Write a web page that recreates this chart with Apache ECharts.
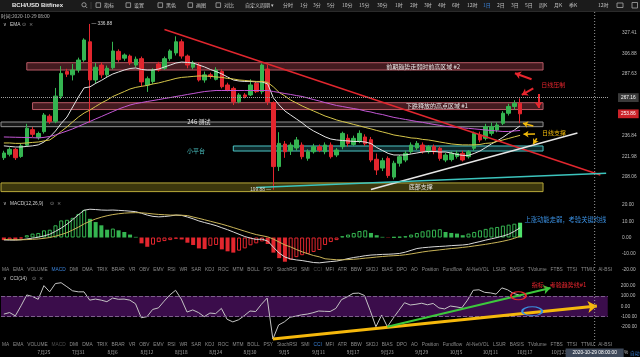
<!DOCTYPE html>
<html><head><meta charset="utf-8">
<script src="https://cdn.jsdelivr.net/npm/echarts@6/dist/echarts.min.js"></script>
<style>html,body{margin:0;padding:0;background:#000;}#c{width:640px;height:357px;}</style>
</head><body><div id="c"></div>
<script>
// ---------- categories (daily candles, 1D) ----------
const dates = [
'7/18','7/19','7/20','7/21','7/22','7/23','7/24','7/25','7/26','7/27','7/28','7/29','7/30','7/31',
'8/1','8/2','8/3','8/4','8/5','8/6','8/7','8/8','8/9','8/10','8/11','8/12','8/13','8/14','8/15','8/16',
'8/17','8/18','8/19','8/20','8/21','8/22','8/23','8/24','8/25','8/26','8/27','8/28','8/29','8/30','8/31',
'9/1','9/2','9/3','9/4','9/5','9/6','9/7','9/8','9/9','9/10','9/11','9/12','9/13','9/14','9/15',
'9/16','9/17','9/18','9/19','9/20','9/21','9/22','9/23','9/24','9/25','9/26','9/27','9/28','9/29','9/30',
'10/1','10/2','10/3','10/4','10/5','10/6','10/7','10/8','10/9','10/10','10/11','10/12','10/13','10/14','10/15',
'10/16','10/17','10/18','10/19','10/20','10/21','10/22','10/23','10/24','10/25','10/26','10/27','10/28','10/29','10/30','10/31'];

// ---------- price candles [open, close, low, high] ----------
const ohlc = [
[221.1,224.4,219.5,226.0],[223.5,227.0,222.0,228.5],[227.0,221.1,219.5,228.0],[222.0,229.5,221.0,231.0],
[230.0,242.6,229.0,246.0],[241.5,238.0,236.0,243.5],[235.5,238.6,234.0,240.0],[240.0,252.9,238.5,254.5],
[252.0,247.7,246.0,253.5],[248.0,268.4,246.5,275.4],[268.4,288.3,266.0,295.0],[290.0,287.6,285.0,292.5],
[287.0,291.4,282.0,297.0],[291.4,300.7,289.0,303.0],[300.7,320.3,299.0,322.0],[318.5,282.4,246.7,336.88],
[282.4,294.0,279.0,298.0],[296.0,287.0,284.0,298.5],[287.0,293.0,285.0,295.5],[293.5,309.4,292.0,318.5],
[309.0,301.0,299.0,311.0],[302.5,305.5,300.0,307.0],[304.5,298.0,296.0,306.0],[296.0,301.5,294.0,304.0],
[302.0,280.7,276.5,304.0],[278.0,283.5,272.0,285.5],[281.0,291.4,279.0,293.0],[297.0,291.4,290.0,299.0],
[293.0,302.0,291.5,304.0],[302.0,309.4,300.0,311.0],[307.5,318.5,305.0,324.0],[318.5,304.5,302.0,321.0],
[304.5,296.0,293.0,306.0],[294.0,298.0,292.0,300.0],[296.0,282.4,281.0,298.0],[282.4,287.0,280.0,290.0],
[287.0,285.5,283.5,289.0],[283.0,291.4,282.0,294.0],[290.0,276.5,275.0,292.0],[278.0,273.6,272.5,280.0],
[275.0,263.7,261.0,276.5],[263.7,269.4,262.5,271.0],[269.4,268.0,266.5,271.0],[269.4,278.0,268.5,283.0],
[279.5,272.2,271.0,281.0],[272.2,296.0,270.0,297.5],[292.3,263.7,261.0,296.0],[263.0,215.0,199.88,264.0],
[215.0,231.3,212.0,239.6],[230.8,225.3,221.0,233.0],[226.0,230.1,223.0,232.0],[228.0,233.8,226.0,236.0],
[230.1,221.8,220.0,232.0],[220.7,225.3,219.0,227.0],[225.3,228.9,224.0,231.0],[228.9,226.3,225.0,230.5],
[225.3,230.1,223.5,232.0],[230.1,221.8,220.5,232.0],[223.0,226.5,221.5,228.0],[228.9,238.7,227.0,240.0],
[235.0,231.3,229.0,238.0],[230.5,235.0,229.5,237.0],[232.6,238.7,231.5,241.0],[236.0,231.0,229.5,238.0],
[234.0,219.5,218.0,236.0],[220.0,212.7,209.4,224.0],[214.0,219.0,212.0,221.0],[220.6,209.0,207.5,222.0],
[208.0,217.3,206.5,219.0],[217.3,221.8,215.0,223.0],[219.5,224.2,218.0,226.0],[225.3,230.1,224.0,232.0],
[228.0,231.3,226.5,233.0],[230.1,225.3,224.0,232.0],[225.3,228.9,224.0,230.0],[228.9,225.3,223.5,230.5],
[227.8,220.6,219.0,229.0],[219.5,223.0,218.0,224.5],[219.8,224.2,218.5,225.5],[222.0,224.2,220.5,226.0],
[224.2,219.5,218.5,226.0],[221.8,225.3,220.5,226.5],[227.8,238.7,226.0,240.0],[237.5,233.8,232.0,240.0],
[235.0,243.8,233.5,246.0],[238.7,243.8,237.0,247.0],[241.2,245.1,239.5,247.0],[246.4,254.3,245.0,256.0],
[254.3,259.8,252.5,262.0],[259.8,262.5,257.0,265.0],[262.5,253.86,246.4,266.5]];

// ---------- moving averages (white / yellow / purple) ----------
const maFast = [229.5,229.1,228.7,228.7,229.1,229.5,230.2,232.3,235.9,240.5,
246.3,251.3,259.4,267.7,275.5,276.3,279.4,282.0,285.1,287.8,
289.6,291.4,292.8,293.3,291.9,291.4,291.4,292.3,294.2,296.0,
297.9,298.8,298.4,297.9,296.0,294.2,291.9,290.0,287.8,285.1,
282.4,281.5,281.1,281.1,280.7,280.7,278.9,266.8,261.0,256.1,
252.9,249.8,246.7,243.2,240.5,238.3,236.1,234.5,233.8,233.4,
233.1,232.7,232.7,232.3,231.2,228.3,226.2,224.1,223.0,223.0,
223.0,223.7,224.4,225.1,225.5,225.5,225.1,225.1,224.4,223.4,
222.7,222.7,224.1,225.8,228.3,230.9,233.1,235.7,238.7,241.2,244.4];
const maMid = [231.6,231.6,231.3,231.3,231.6,232.0,232.3,233.1,233.8,236.8,
240.2,243.6,247.5,251.3,254.5,256.9,259.8,262.7,265.1,268.1,
270.2,272.3,274.5,275.9,276.8,277.6,278.9,279.8,281.1,282.4,
283.8,284.7,285.1,285.6,286.0,286.0,285.6,285.1,284.7,283.8,
283.3,282.4,282.0,281.5,281.1,281.1,280.2,276.3,271.5,268.5,
265.1,262.7,260.2,258.1,256.1,254.1,252.1,250.6,249.0,247.8,
246.7,245.5,244.4,243.2,242.1,240.9,239.8,238.7,237.5,236.8,
236.1,235.3,235.0,234.2,233.8,233.1,232.3,231.6,230.9,230.5,
230.2,230.2,230.2,230.5,231.3,231.6,232.7,233.8,234.9,236.1,237.2];
const maSlow = [236.0,235.9,235.8,235.7,235.6,235.5,235.3,235.7,236.4,237.5,
239.0,240.5,242.1,244.0,245.9,247.8,249.8,251.7,253.7,255.7,
257.7,259.4,261.0,262.2,263.0,263.9,264.7,265.5,266.4,267.2,
268.1,268.9,269.8,270.6,271.5,272.3,272.8,273.2,273.2,273.2,
273.2,273.2,273.2,273.2,273.2,273.2,273.2,272.3,271.5,270.6,
269.8,268.9,268.1,266.8,265.5,264.3,263.0,261.8,260.6,259.8,
258.9,258.1,257.3,256.1,255.3,254.1,253.3,252.1,251.0,250.2,
249.4,248.6,247.8,247.1,246.3,245.5,244.8,244.0,243.6,243.2,
242.9,242.5,242.1,241.7,241.2,240.9,240.5,240.1,240.1,240.5,240.9];

// ---------- MACD(12,26,9) ----------
const macdDif = [-1.5,-1.6,-1.6,-1.4,-0.9,-0.4,0.2,1.0,2.0,3.8,
5.8,8.2,11.0,14.0,16.8,17.4,17.2,16.9,16.8,16.9,
16.7,16.5,16.2,15.9,14.9,13.8,13.0,12.7,12.9,13.3,
13.8,13.6,12.6,11.5,10.2,9.2,8.3,7.3,6.0,4.8,
3.4,2.0,0.6,-0.4,-1.2,-1.0,-2.2,-6.0,-9.6,-12.0,
-13.2,-13.8,-14.2,-14.8,-15.4,-15.6,-15.2,-14.8,-14.5,-13.8,
-13.0,-12.3,-11.8,-11.2,-10.8,-10.6,-10.4,-10.3,-10.1,-9.8,
-9.0,-7.9,-6.8,-6.3,-6.0,-5.7,-5.5,-5.3,-5.0,-4.8,
-4.6,-4.2,-3.3,-2.5,-1.6,-0.8,0.0,0.9,2.0,3.8,6.0];
const macdDea = [-1.2,-1.3,-1.4,-1.4,-1.3,-1.1,-0.9,-0.5,0.0,0.8,
1.8,3.0,4.6,6.4,8.4,10.0,11.4,12.5,13.4,14.1,
14.6,15.0,15.2,15.3,15.2,14.9,14.5,14.2,14.0,13.8,
13.8,13.7,13.5,12.6,11.8,10.9,10.0,9.1,8.2,7.2,
6.1,5.0,3.9,2.8,1.8,1.1,0.4,-1.0,-2.8,-4.6,
-5.8,-7.4,-8.8,-10.0,-11.1,-11.9,-13.1,-13.4,-13.7,-13.7,
-13.6,-13.4,-13.1,-12.7,-12.4,-12.0,-11.7,-11.4,-11.2,-11.0,
-10.6,-10.1,-9.5,-8.9,-8.4,-8.0,-7.6,-7.2,-6.8,-6.5,
-6.1,-5.7,-5.2,-4.7,-4.2,-3.6,-3.0,-2.3,-1.5,-0.5,0.8];
const macdHist = [-1.6,-1.2,-1.6,-0.6,1.4,2.4,2.8,4.4,4.8,7.5,
10.5,10.9,12.1,14.5,17.0,11.5,9.5,7.5,4.8,5.5,
4.4,3.4,1.8,0.4,-3.6,-5.7,-4.4,-2.8,-2.2,-1.6,
-0.8,-1.2,-3.2,-4.6,-6.7,-7.1,-5.1,-4.6,-7.3,-8.5,
-9.3,-8.1,-6.7,-4.8,-3.6,-2.4,-4.0,-9.3,-12.7,-14.9,
-13.7,-12.1,-10.9,-10.1,-8.9,-7.7,-4.6,-2.8,-1.6,0.8,
1.8,2.8,4.0,4.4,2.8,1.4,0.4,-0.2,0.2,0.4,
0.8,1.8,2.8,3.8,4.4,4.8,5.1,3.4,2.8,2.4,
1.4,2.4,3.4,4.4,5.3,6.1,6.5,7.3,7.9,8.5,9.1];

// ---------- CCI(14) ----------
const cci = [-75,-60,-92,5,110,95,68,200,140,220,
228,190,150,140,140,60,70,60,45,80,
68,70,60,25,-110,-100,-30,-15,50,110,
155,70,-55,-35,-60,-100,-65,-70,-20,-125,
-150,-130,-90,-45,-50,20,80,-316,-180,-150,
-105,-95,-82,-75,-62,-45,-48,-50,-20,65,
92,125,128,105,-40,-197,-84,-197,-116,-40,
35,13,20,30,15,28,-15,-25,3,-5,
-15,60,155,160,135,130,118,178,160,125,110];

// ---------- tick labels ----------
const priceTicks = [208.06, 221.98, 236.84, 287.63, 306.88, 327.41];
const macdTicks = [-20, -10, 0, 10, 20];
const cciTicks = [-200, -100, 0, 100, 200];

// ---------- annotations (category index, value) ----------
const crossIndex = 103, crossPrice = 267.16, crossTime = '2020-10-29 08:00:00';
const zone2 = [[4, 298.2], [94, 291.4]];
const zone1 = [[5, 262.9], [94, 257.3]];
const band246 = [[-0.5, 247.4], [94, 243.8]];
const platform = [[40, 229.4], [94, 225.8]];
const bottomBox = [[-0.5, 204.2], [94, 198.7]];
const downTrend = [[28, 331.0], [104, 209.4]];
const upTrend = [[64, 200.0], [100, 239.0]];
const tealTrend = [[44, 201.3], [105, 210.6]];
const redArrows = [[[92.0, 283.0], [89.1, 288.4]], [[92.3, 275.1], [90.3, 269.4]], [[93.2, 270.1], [93.2, 258.5]]];
const yellowArrows = [[[92.3, 244.3], [90.5, 246.4]], [[92.6, 238.2], [90.6, 238.0]], [[92.9, 235.0], [92.3, 230.8]]];
const mainNotes = [
  ['前期趋势走弱时前高区域 #2', 73.1, 294.7, '#e6e6e6'],
  ['下跌释放的高点区域 #1', 75.5, 260.2, '#e6e6e6'],
  ['246 测试', 34, 247.4, '#e6e6e6'],
  ['小平台', 33.5, 225.8, '#4cc6c6'],
  ['底部支撑', 72.7, 201.6, '#e6e6e6'],
  ['日线压制', 95.8, 278.0, '#e8262e'],
  ['日线支撑', 95.9, 239.0, '#f0b90b']];
const macdNote = ['上涨动能走弱，考验关键均线', 97.9, 11.2];
const cciNote = ['指标，考验趋势线#1', 97, 206];
const cciGreenArrow = [[67, -197], [95.5, 177]];
const cciYellowArrow = [[47, -316], [103.6, 3]];
const cciRedRing = [89.9, 102];
const cciBlueRing = [92.3, -48];

// ---------- styles ----------
const GREEN = '#35b551', RED = '#e3262e';
const CJK = '"Noto Sans CJK SC","Noto Sans",sans-serif';
const LAT = '"Liberation Sans","Noto Sans CJK SC",sans-serif';
const ZONE = {color:'rgba(150,60,70,0.45)', borderColor:'#b85a66', borderWidth:1};
const GRAYB = {color:'rgba(110,110,110,0.22)', borderColor:'#909090', borderWidth:1};
const CYANB = {color:'rgba(40,120,125,0.35)', borderColor:'#4cc6c6', borderWidth:1};
const YELB = {color:'rgba(120,110,25,0.5)', borderColor:'#b9aa3a', borderWidth:1};

function seg(p, color, width, arrow, asize) {
  return [{coord:p[0], symbol:'none', lineStyle:{color, width, type:'solid'}},
          {coord:p[1], symbol: arrow ? 'arrow' : 'none', symbolSize: asize || 6}];
}
function note(coord, text, color, size) {
  return {coord, symbol:'circle', symbolSize:1, itemStyle:{color:'rgba(0,0,0,0)'},
    label:{show:true, position:'inside', formatter:text, color, fontSize:size || 6, fontFamily:CJK}};
}

let hiIdx = 0, loIdx = 0;
ohlc.forEach((d, i) => { if (d[3] > ohlc[hiIdx][3]) hiIdx = i; if (d[2] < ohlc[loIdx][2]) loIdx = i; });
const hi = ohlc[hiIdx][3], lo = ohlc[loIdx][2];
const lastClose = ohlc[ohlc.length - 1][1];

const histData = macdHist.map((v, i) => {
  const prev = i > 0 ? macdHist[i - 1] : v;
  const col = v >= 0 ? GREEN : RED;
  const last = i === macdHist.length - 1;
  const hollow = !last && v > prev;
  return {value: v, itemStyle: hollow
    ? {color:'rgba(0,0,0,0)', borderColor: col, borderWidth: 1}
    : {color: last ? '#4fe36c' : col, borderColor: last ? '#4fe36c' : col, borderWidth: 0}};
});

const hiddenCat = gi => ({type:'category', gridIndex:gi, data:dates, show:false, boundaryGap:true});
const hiddenVal = gi => ({type:'value', gridIndex:gi, min:-0.5, max:dates.length - 0.5, show:false});
const yLab = vals => ({customValues: vals, formatter: v => Number(v).toFixed(2), color:'#bdbdbd', fontSize:4.8, margin:13, fontFamily:LAT});

const option = {
  backgroundColor:'#000',
  animation:false,
  grid:[
    {left:1, right:31, top:12, height:184},
    {left:1, right:31, top:200, height:72},
    {left:1, right:31, top:282, height:58}
  ],
  xAxis:[
    hiddenCat(0), hiddenVal(0), hiddenCat(1), hiddenVal(1),
    {type:'category', gridIndex:2, data:dates, boundaryGap:true,
      axisLine:{show:false}, axisTick:{show:false}, splitLine:{show:false},
      axisLabel:{interval:(i) => i >= 7 && (i - 1) % 6 === 0,
        formatter:(v) => { const p = v.split('/'); return p[0] + '月' + p[1]; },
        color:'#a8a8a8', fontSize:4.8, margin:10, fontFamily:CJK}},
    hiddenVal(2)
  ],
  yAxis:[
    {type:'log', gridIndex:0, position:'right', min:195.98, max:349.8,
      axisLine:{show:false}, axisTick:{show:false}, splitLine:{show:false}, axisLabel:yLab(priceTicks)},
    {type:'value', gridIndex:1, position:'right', min:-21.23, max:23.08,
      axisLine:{show:false}, axisTick:{show:false}, splitLine:{show:false}, axisLabel:yLab(macdTicks)},
    {type:'value', gridIndex:2, position:'right', min:-325, max:235,
      axisLine:{show:false}, axisTick:{show:false}, splitLine:{show:false}, axisLabel:yLab(cciTicks)}
  ],
  series:[
    {type:'line', xAxisIndex:1, yAxisIndex:0, data:[], silent:true,
      markArea:{silent:true, data:[
        [{coord:zone2[0], itemStyle:ZONE}, {coord:zone2[1]}],
        [{coord:zone1[0], itemStyle:ZONE}, {coord:zone1[1]}],
        [{coord:band246[0], itemStyle:GRAYB}, {coord:band246[1]}],
        [{coord:platform[0], itemStyle:CYANB}, {coord:platform[1]}],
        [{coord:bottomBox[0], itemStyle:YELB}, {coord:bottomBox[1]}]
      ]}},
    {type:'candlestick', xAxisIndex:0, yAxisIndex:0, data:ohlc, barWidth:'70%',
      itemStyle:{color:GREEN, color0:RED, borderColor:GREEN, borderColor0:RED, borderWidth:1}},
    {type:'line', xAxisIndex:0, yAxisIndex:0, data:maFast, symbol:'none', lineStyle:{color:'#e4e4e4', width:1}},
    {type:'line', xAxisIndex:0, yAxisIndex:0, data:maMid, symbol:'none', lineStyle:{color:'#d6c64a', width:1}},
    {type:'line', xAxisIndex:0, yAxisIndex:0, data:maSlow, symbol:'none', lineStyle:{color:'#c457d6', width:1}},
    {type:'line', xAxisIndex:1, yAxisIndex:0, data:[], silent:true,
      markLine:{silent:true, symbol:['none','none'], label:{show:false}, data:[
        seg(downTrend, '#e0262e', 1.5), seg(upTrend, '#e6e6e6', 1.5), seg(tealTrend, '#3cc4bd', 1.5),
        ...redArrows.map(a => seg(a, '#e8262e', 2, true, 6)),
        ...yellowArrows.map(a => seg(a, '#f0b90b', 1.6, true, 5)),
        {yAxis:crossPrice, lineStyle:{type:'dotted', color:'#a0a0a0', width:1},
          label:{show:true, position:'end', distance:9, formatter:crossPrice.toFixed(2), color:'#fff',
            backgroundColor:'#3a3a3a', padding:[2,3], fontSize:4.8, fontFamily:LAT}},
        {yAxis:lastClose, lineStyle:{color:'rgba(0,0,0,0)', width:0},
          label:{show:true, position:'end', distance:9, formatter:lastClose.toFixed(2), color:'#fff',
            backgroundColor:'#cc2229', padding:[2,3], fontSize:4.8, fontFamily:LAT}}
      ]},
      markPoint:{silent:true, data:[
        ...mainNotes.map(n => note([n[1], n[2]], n[0], n[3], 6)),
        {coord:[hiIdx, hi], symbol:'circle', symbolSize:1, itemStyle:{color:'rgba(0,0,0,0)'},
          label:{show:true, position:'right', distance:1, formatter:'— ' + hi.toFixed(2), color:'#d8d8d8', fontSize:4.8, fontFamily:LAT}},
        {coord:[loIdx, lo], symbol:'circle', symbolSize:1, itemStyle:{color:'rgba(0,0,0,0)'},
          label:{show:true, position:'left', distance:2, formatter:lo.toFixed(2) + ' —', color:'#d8d8d8', fontSize:4.8, fontFamily:LAT}}
      ]}},
    {type:'bar', xAxisIndex:2, yAxisIndex:1, data:histData, barWidth:'70%'},
    {type:'line', xAxisIndex:2, yAxisIndex:1, data:macdDif, symbol:'none', lineStyle:{color:'#d8d8d8', width:1}},
    {type:'line', xAxisIndex:2, yAxisIndex:1, data:macdDea, symbol:'none', lineStyle:{color:'#c9b458', width:1}},
    {type:'line', xAxisIndex:3, yAxisIndex:1, data:[], silent:true,
      markPoint:{silent:true, data:[note([macdNote[1], macdNote[2]], macdNote[0], '#3a8fe0', 6.3)]}},
    {type:'line', xAxisIndex:5, yAxisIndex:2, data:[], silent:true,
      markArea:{silent:true, data:[[{yAxis:100, itemStyle:{color:'#3b0d4b'}}, {yAxis:-100}]]},
      markLine:{silent:true, symbol:['none','none'], label:{show:false}, data:[
        {yAxis:100, lineStyle:{type:'dashed', color:'#7d5f8c', width:1}},
        {yAxis:-100, lineStyle:{type:'dashed', color:'#7d5f8c', width:1}}]}},
    {type:'line', xAxisIndex:4, yAxisIndex:2, data:cci, symbol:'none', lineStyle:{color:'#c4c4c4', width:1}},
    {type:'line', xAxisIndex:5, yAxisIndex:2, data:[], silent:true,
      markLine:{silent:true, symbol:['none','none'], label:{show:false}, data:[
        seg(cciYellowArrow, '#f5b80c', 3, true, 9),
        seg(cciGreenArrow, '#3cc83c', 2, true, 7)]},
      markPoint:{silent:true, data:[
        {coord:cciRedRing, symbol:'circle', symbolSize:[15,8], itemStyle:{color:'rgba(0,0,0,0)', borderColor:'#e8262e', borderWidth:1.5}, label:{show:false}},
        {coord:cciBlueRing, symbol:'circle', symbolSize:[20,9], itemStyle:{color:'rgba(0,0,0,0)', borderColor:'#3a8fe0', borderWidth:1.5}, label:{show:false}},
        note([cciNote[1], cciNote[2]], cciNote[0], '#e8262e', 6)]}}
  ]
};

const chart = echarts.init(document.getElementById('c'), null, {renderer:'canvas', width:640, height:357});
chart.setOption(option);

// ---------- chrome: toolbar, panel titles, indicator tabs, crosshair ----------
const G = [];
function T(x, y, text, fill, font, align, z) {
  G.push({type:'text', x, y, silent:true, z: z || 50,
    style:{text, fill, font, textAlign: align || 'left', align: align || 'left', textVerticalAlign:'middle', verticalAlign:'middle'}});
}
function R(x, y, w, h, fill, stroke, z) {
  G.push({type:'rect', silent:true, z: z || 40, shape:{x, y, width:w, height:h},
    style:{fill: fill || 'none', stroke: stroke || 'none', lineWidth: 0.8}});
}
R(0, 0, 640, 11, '#1b1b1b', null, 40);
G.push({type:'line', silent:true, z:41, shape:{x1:0, y1:11.5, x2:640, y2:11.5}, style:{stroke:'#2a2a2a', lineWidth:1}});
T(12, 5.5, 'BCH/USD Bitfinex', '#e8e8e8', 'bold 6px ' + LAT);
G.push({type:'circle', silent:true, z:50, shape:{cx:84, cy:4.8, r:2.1}, style:{fill:'none', stroke:'#b0b0b0', lineWidth:0.8}});
G.push({type:'line', silent:true, z:50, shape:{x1:85.5, y1:6.3, x2:87.2, y2:8}, style:{stroke:'#b0b0b0', lineWidth:0.8}});
G.push({type:'line', silent:true, z:50, shape:{x1:91, y1:2, x2:91, y2:9}, style:{stroke:'#3a3a3a', lineWidth:1}});
const tbFont = '5px ' + CJK;
[['指标',104],['设置',134],['黑色',166],['画图',196],['对比',224]].forEach(t => {
  R(t[1] - 8, 2.8, 4.6, 4.6, null, '#a8a8a8', 50);
  T(t[1], 5.5, t[0], '#c8c8c8', tbFont);
});
T(245, 5.5, '自定义周期 ▾', '#c8c8c8', tbFont);
[['分时',283],['1分',300],['3分',313],['5分',327],['10分',342],['15分',359],['30分',377],['1时',395],['2时',410],
 ['3时',424],['4时',438],['6时',452],['12时',467],['1日',483],['2日',497],['3日',511],['5日',525],['周K',539],
 ['月K',554],['季K',569],['12时',598]].forEach(t => T(t[1], 5.5, t[0], t[0] === '1日' && t[1] === 483 ? '#3a82d8' : '#c0c0c0', tbFont));
R(617, 3, 6, 4.5, null, '#a8a8a8', 50);
R(632, 2.5, 5.5, 5.5, null, '#a8a8a8', 50);

const smallFont = '4.8px ' + LAT;
T(1, 16.5, '时间:2020-10-29 08:00', '#bdbdbd', '4.8px ' + CJK);
const titleRow = (y, name, w) => {
  T(3, y, '∨', '#bdbdbd', '5px "DejaVu Sans"');
  T(10, y, name, '#d0d0d0', smallFont);
  T(12 + w, y, '⊙', '#9a9a9a', '5px "DejaVu Sans"');
  T(19 + w, y, '×', '#9a9a9a', '5px "DejaVu Sans"');
};
titleRow(24.5, 'EMA', 10);
titleRow(204, 'MACD(12,26,9)', 38);
titleRow(278.5, 'CCI(14)', 20);

const tabNames = ['MA','EMA','VOLUME','MACD','DMI','DMA','TRIX','BRAR','VR','OBV','EMV','RSI','WR','SAR','KDJ','ROC','MTM',
  'BOLL','PSY','StochRSI','SMI','CCI','MFI','ATR','BBW','SKDJ','BIAS','DPO','AO','Position','Fundflow','AI-NetVOL','LSUR',
  'BASIS','TVolume','FTBS','TTSI','TTMU','AI-BSI'];
const mctx = document.createElement('canvas').getContext('2d');
function tabRow(y, active, dim) {
  mctx.font = smallFont;
  const ws = tabNames.map(n => mctx.measureText(n).width);
  const total = ws.reduce((a, b) => a + b, 0);
  const gap = (612 - 2 - total) / (tabNames.length - 1);
  let x = 2;
  tabNames.forEach((n, k) => {
    T(x, y, n, n === active ? '#3a82d8' : (n === dim ? '#4e4e4e' : '#8c8c8c'), smallFont);
    x += ws[k] + gap;
  });
}
tabRow(270, 'MACD', 'CCI');
tabRow(344.5, 'CCI', 'MACD');

const cx = chart.convertToPixel({xAxisIndex:1}, crossIndex);
G.push({type:'line', silent:true, z:60, shape:{x1:cx, y1:12, x2:cx, y2:348},
  style:{stroke:'#9a9a9a', lineWidth:1, lineDash:[1,2]}});
R(cx - 29, 348.5, 58, 8.5, '#3e495a', null, 61);
T(cx, 352.8, crossTime, '#ffffff', smallFont, 'center', 62);
T(624, 352.8, '%', '#bdbdbd', smallFont, 'left', 62);
T(630, 352.8, '自动', '#3a82d8', '4.8px ' + CJK, 'left', 62);

chart.setOption({graphic:{elements:G}});
</script></body></html>
